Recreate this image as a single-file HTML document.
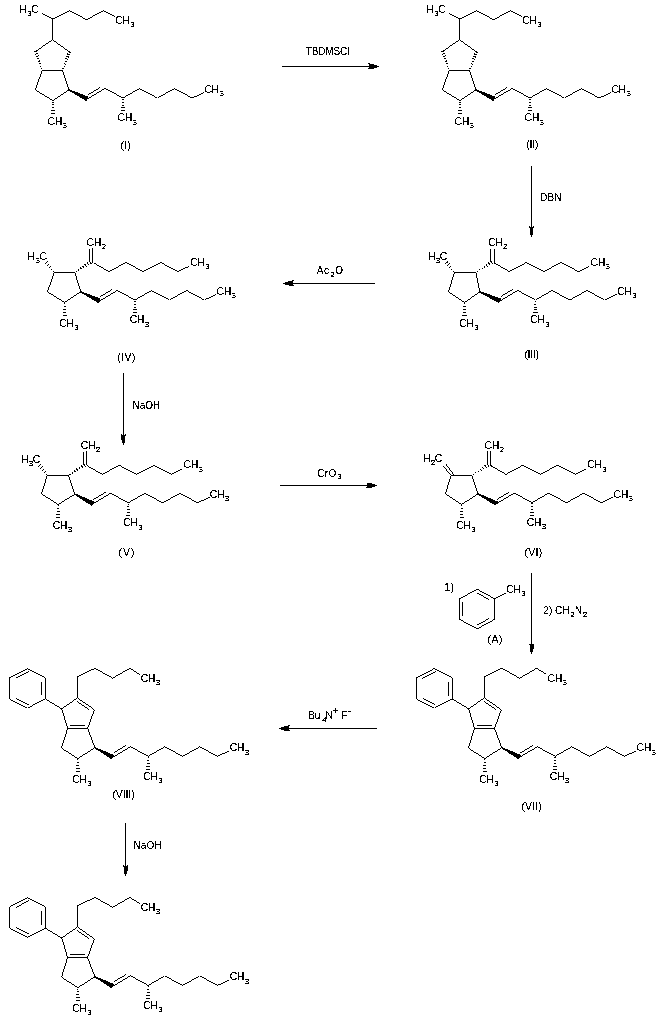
<!DOCTYPE html>
<html><head><meta charset="utf-8"><style>
html,body{margin:0;padding:0;background:#fff;}
body{width:661px;height:1021px;overflow:hidden;position:relative;}
svg{position:absolute;left:0;top:0;filter:grayscale(100%);}
path{stroke:#000;stroke-width:1.0;fill:none;stroke-linecap:butt;stroke-linejoin:miter;}
.f{fill:#000;stroke:none;}
text{font-family:"Liberation Sans",sans-serif;fill:#000;stroke:#000;stroke-width:0.12px;}
.h{stroke-width:1.05;}
.s{stroke-width:0.2px;}
</style></head><body>
<svg width="661" height="1021" viewBox="0 0 661 1021">
<defs><filter id="th" x="0" y="0" width="661" height="1021" filterUnits="userSpaceOnUse"><feComponentTransfer><feFuncA type="discrete" tableValues="0 1"/></feComponentTransfer></filter><filter id="tt" x="0" y="0" width="661" height="1021" filterUnits="userSpaceOnUse"><feComponentTransfer><feFuncA type="discrete" tableValues="0 1"/></feComponentTransfer></filter></defs>
<g filter="url(#th)">
<path d="M42.4 70.3 L35.2 89.8 L53 100.7 L68.8 89.8 L62.4 70.3"/>
<path d="M42.4 70.3 L62.4 70.3"/>
<path class="h" d="M52.34 102.5L53.66 102.5M51.98 104.5L54.02 104.5M51.62 107.5L54.38 107.5M51.26 110.5L54.74 110.5M50.9 113.5L55.1 113.5"/>
<polygon class="f" points="68.52,90.39 86.51,101.15 88.69,96.65 69.08,89.21"/>
<path d="M87.6 98.9 L105.2 88.4"/>
<path d="M87.97 94.72 L100.47 87.27"/>
<path d="M105.2 88.4 L122.9 98 L139.4 88.5 L157.4 98 L174.5 88.5 L192.2 98 L204.3 92.4"/>
<path class="h" d="M122.24 99.5L123.56 99.5M121.88 102.5L123.92 102.5M121.52 105.5L124.28 105.5M121.16 107.5L124.64 107.5M120.8 110.5L125 110.5"/>
<path d="M35.6 51.3 L52.6 39.9 L69.5 52"/>
<path class="h" d="M42.34 68.18L41.1 68.62M41.66 65.67L40.03 66.25M40.98 63.15L38.96 63.88M40.3 60.64L37.89 61.5M39.62 58.13L36.83 59.13M38.94 55.62L35.76 56.75M38.26 53.1L34.69 54.38M37.58 50.59L33.62 52.01"/>
<path class="h" d="M63.73 68.71L62.49 68.23M64.83 66.43L63.22 65.8M65.93 64.15L63.94 63.38M67.04 61.87L64.66 60.95M68.14 59.59L65.38 58.52M69.25 57.32L66.1 56.09M70.35 55.04L66.82 53.67M71.46 52.76L67.54 51.24"/>
<path d="M52.6 39.9 L52.9 18.9 L69.5 10.6 L86.6 19.7 L103.5 10.6 L114.9 16.3"/>
<path d="M41.5 13.3 L52.9 18.9"/>
<path d="M449.4 70.3 L442.2 89.8 L460 100.7 L475.8 89.8 L469.4 70.3"/>
<path d="M449.4 70.3 L469.4 70.3"/>
<path class="h" d="M459.34 102.5L460.66 102.5M458.98 104.5L461.02 104.5M458.62 107.5L461.38 107.5M458.26 110.5L461.74 110.5M457.9 113.5L462.1 113.5"/>
<polygon class="f" points="475.52,90.39 493.51,101.15 495.69,96.65 476.08,89.21"/>
<path d="M494.6 98.9 L512.2 88.4"/>
<path d="M494.97 94.72 L507.47 87.27"/>
<path d="M512.2 88.4 L529.9 98 L546.4 88.5 L564.4 98 L581.5 88.5 L599.2 98 L611.3 92.4"/>
<path class="h" d="M529.24 99.5L530.56 99.5M528.88 102.5L530.92 102.5M528.52 105.5L531.28 105.5M528.16 107.5L531.64 107.5M527.8 110.5L532 110.5"/>
<path d="M442.6 51.3 L459.6 39.9 L476.5 52"/>
<path class="h" d="M449.34 68.18L448.1 68.62M448.66 65.67L447.03 66.25M447.98 63.15L445.96 63.88M447.3 60.64L444.89 61.5M446.62 58.13L443.83 59.13M445.94 55.62L442.76 56.75M445.26 53.1L441.69 54.38M444.58 50.59L440.62 52.01"/>
<path class="h" d="M470.73 68.71L469.49 68.23M471.83 66.43L470.22 65.8M472.93 64.15L470.94 63.38M474.04 61.87L471.66 60.95M475.14 59.59L472.38 58.52M476.25 57.32L473.1 56.09M477.35 55.04L473.82 53.67M478.46 52.76L474.54 51.24"/>
<path d="M459.6 39.9 L459.9 18.9 L476.5 10.6 L493.6 19.7 L510.5 10.6 L521.9 16.3"/>
<path d="M448.5 13.3 L459.9 18.9"/>
<path d="M454.3 272.5 L448.6 291.8 L464.5 302.5 L479.9 291.8 L475.9 272.5"/>
<path d="M454.3 272.5 L475.9 272.5"/>
<path class="h" d="M463.84 303.5L465.16 303.5M463.48 306.5L465.52 306.5M463.12 309.5L465.88 309.5M462.76 312.5L466.24 312.5M462.4 315.5L466.6 315.5"/>
<polygon class="f" points="479.63,292.39 499.07,303.18 501.13,298.62 480.17,291.21"/>
<path d="M500.1 300.9 L517.7 290.4"/>
<path d="M500.47 296.72 L512.97 289.27"/>
<path d="M517.7 290.4 L535.4 300 L551.9 290.5 L569.9 300 L587 290.5 L604.7 300 L616.8 294.4"/>
<path class="h" d="M534.74 301.5L536.06 301.5M534.38 304.5L536.42 304.5M534.02 307.5L536.78 307.5M533.66 309.5L537.14 309.5M533.3 312.5L537.5 312.5"/>
<path class="h" d="M454.07 271.1L453.01 271.9M452.64 268.63L451.02 269.87M451.22 266.16L449.02 267.84M449.8 263.7L447.02 265.8M448.37 261.23L445.03 263.77"/>
<path class="h" d="M477.82 272.03L477.1 270.93M480.29 270.7L479.31 269.2M482.76 269.37L481.52 267.47M485.24 268.05L483.72 265.73M487.71 266.72L485.93 264M490.18 265.39L488.14 262.27M492.65 264.06L490.35 260.54"/>
<path d="M494 262.8 L494 248.2"/>
<path d="M490.8 248.6 L490.8 260.5"/>
<path d="M494 262.8 L509.4 271.6 L526.3 262.5 L543.7 271.6 L561.1 262.5 L578.5 271.6 L589.6 266.2"/>
<path d="M54.3 272.5 L47.4 291.8 L64.7 302.5 L80.8 291.8 L74.8 272.5"/>
<path d="M54.3 272.5 L74.8 272.5"/>
<path class="h" d="M64.04 303.5L65.36 303.5M63.68 306.5L65.72 306.5M63.32 309.5L66.08 309.5M62.96 312.5L66.44 312.5M62.6 315.5L66.8 315.5"/>
<polygon class="f" points="80.52,292.39 98.62,303.15 100.78,298.65 81.08,291.21"/>
<path d="M99.7 300.9 L117.3 290.4"/>
<path d="M100.07 296.72 L112.57 289.27"/>
<path d="M117.3 290.4 L135 300 L151.5 290.5 L169.5 300 L186.6 290.5 L204.3 300 L216.4 294.4"/>
<path class="h" d="M134.34 301.5L135.66 301.5M133.98 304.5L136.02 304.5M133.62 307.5L136.38 307.5M133.26 309.5L136.74 309.5M132.9 312.5L137.1 312.5"/>
<path class="h" d="M54.02 271.09L52.98 271.91M52.5 268.61L50.9 269.89M50.98 266.14L48.82 267.86M49.46 263.66L46.74 265.84M47.94 261.19L44.66 263.81"/>
<path class="h" d="M76.7 272.03L75.98 270.93M79.15 270.7L78.15 269.2M81.59 269.37L80.33 267.47M84.03 268.04L82.51 265.74M86.47 266.71L84.69 264.01M88.92 265.38L86.86 262.28M91.36 264.05L89.04 260.55"/>
<path d="M92.7 262.8 L92.7 248.2"/>
<path d="M89.5 248.6 L89.5 260.5"/>
<path d="M93.6 262.8 L109 271.6 L125.9 262.5 L143.3 271.6 L160.7 262.5 L178.1 271.6 L189.2 266.2"/>
<path d="M47.3 475.4 L41.4 493.8 L58.2 504.5 L74.9 494.2 L68.4 475.4"/>
<path d="M47.3 475.4 L68.4 475.4"/>
<path class="h" d="M57.54 505.5L58.86 505.5M57.18 508.5L59.22 508.5M56.82 511.5L59.58 511.5M56.46 514.5L59.94 514.5M56.1 517.5L60.3 517.5"/>
<polygon class="f" points="74.6,494.78 91.84,505.91 94.16,501.49 75.2,493.62"/>
<path d="M93 503.7 L110.6 493.2"/>
<path d="M93.37 499.52 L105.87 492.07"/>
<path d="M110.6 493.2 L128.3 502.8 L144.8 493.3 L162.8 502.8 L179.9 493.3 L197.6 502.8 L209.7 497.2"/>
<path class="h" d="M127.64 504.5L128.96 504.5M127.28 506.5L129.32 506.5M126.92 509.5L129.68 509.5M126.56 512.5L130.04 512.5M126.2 515.5L130.4 515.5"/>
<path class="h" d="M47.05 473.99L46.01 474.79M45.61 471.5L43.99 472.74M44.16 469.01L41.97 470.68M42.72 466.52L39.95 468.63M41.27 464.03L37.93 466.57"/>
<path class="h" d="M70.36 474.92L69.64 473.82M72.89 473.58L71.91 472.07M75.42 472.24L74.18 470.32M77.95 470.9L76.45 468.57M80.48 469.55L78.72 466.83M83.01 468.21L80.99 465.08M85.54 466.87L83.26 463.33"/>
<path d="M86.9 465.6 L86.9 451"/>
<path d="M83.7 451.4 L83.7 463.3"/>
<path d="M86.9 465.6 L102.3 474.4 L119.2 465.3 L136.6 474.4 L154 465.3 L171.4 474.4 L182.5 469"/>
<path d="M451.1 475.5 L445.4 493.8 L461.7 504.5 L478 493.8 L471.8 475.5"/>
<path d="M451.1 475.5 L471.8 475.5"/>
<path class="h" d="M461.04 505.5L462.36 505.5M460.68 508.5L462.72 508.5M460.32 511.5L463.08 511.5M459.96 514.5L463.44 514.5M459.6 517.5L463.8 517.5"/>
<polygon class="f" points="477.7,494.38 495.54,505.81 497.86,501.39 478.3,493.22"/>
<path d="M496.7 503.6 L514.3 493.1"/>
<path d="M497.07 499.42 L509.57 491.97"/>
<path d="M514.3 493.1 L532 502.7 L548.5 493.2 L566.5 502.7 L583.6 493.2 L601.3 502.7 L613.4 497.1"/>
<path class="h" d="M531.34 503.5L532.66 503.5M530.98 506.5L533.02 506.5M530.62 509.5L533.38 509.5M530.26 512.5L533.74 512.5M529.9 515.5L534.1 515.5"/>
<path d="M451.1 475.5 L443.4 466.1"/>
<path d="M453.8 474.7 L446.1 464.3"/>
<path class="h" d="M473.79 475L473.07 473.9M476.36 473.63L475.39 472.12M478.94 472.26L477.7 470.34M481.51 470.89L480.02 468.56M484.09 469.51L482.33 466.79M486.66 468.14L484.65 465.01M489.24 466.77L486.96 463.23"/>
<path d="M490.6 465.5 L490.6 450.9"/>
<path d="M487.4 451.3 L487.4 463.2"/>
<path d="M490.6 465.5 L506 474.3 L522.9 465.2 L540.3 474.3 L557.7 465.2 L575.1 474.3 L586.2 468.9"/>
<path d="M474.5 728.4 L468.4 748.1 L484.7 758.6 L501.8 747.7 L494.5 728.4"/>
<path d="M474.5 728.4 L494.5 728.4"/>
<path class="h" d="M484.04 759.5L485.36 759.5M483.68 762.5L485.72 762.5M483.32 765.5L486.08 765.5M482.96 768.5L486.44 768.5M482.6 771.5L486.8 771.5"/>
<polygon class="f" points="501.5,748.27 518.63,759.41 520.97,754.99 502.1,747.13"/>
<path d="M519.8 757.2 L537.4 746.7"/>
<path d="M520.17 753.02 L532.67 745.57"/>
<path d="M537.4 746.7 L555.1 756.3 L571.6 746.8 L589.6 756.3 L606.7 746.8 L624.4 756.3 L636.5 750.7"/>
<path class="h" d="M554.44 757.5L555.76 757.5M554.08 760.5L556.12 760.5M553.72 763.5L556.48 763.5M553.36 766.5L556.84 766.5M553 769.5L557.2 769.5"/>
<path d="M474.5 728.4 L468.7 708.9 L484.3 697.9 L501.3 709.7 L494.5 728.4"/>
<path d="M483.44 700.95 L495.85 709.57"/>
<path d="M477.1 725.4 L491.9 725.4"/>
<path d="M434.3 668.6 L452.2 677.7 L452.2 699 L434.3 708.1 L416.4 699 L416.4 677.7 L434.3 668.6"/>
<path d="M422.42 678.46 L435.84 671.63"/>
<path d="M448.8 681.96 L448.8 695.8"/>
<path d="M422.42 698.24 L435.84 705.07"/>
<path d="M452.2 699 L468.7 708.9"/>
<path d="M484.3 697.9 L484.5 676.6 L501.9 668.3 L519.6 678.2 L536.7 668.3 L546.6 674.4"/>
<path d="M67.6 728.4 L61.5 748.1 L77.8 758.6 L94.9 747.7 L87.6 728.4"/>
<path d="M67.6 728.4 L87.6 728.4"/>
<path class="h" d="M77.14 759.5L78.46 759.5M76.78 762.5L78.82 762.5M76.42 765.5L79.18 765.5M76.06 768.5L79.54 768.5M75.7 771.5L79.9 771.5"/>
<polygon class="f" points="94.6,748.27 111.73,759.41 114.07,754.99 95.2,747.13"/>
<path d="M112.9 757.2 L130.5 746.7"/>
<path d="M113.27 753.02 L125.77 745.57"/>
<path d="M130.5 746.7 L148.2 756.3 L164.7 746.8 L182.7 756.3 L199.8 746.8 L217.5 756.3 L229.6 750.7"/>
<path class="h" d="M147.54 757.5L148.86 757.5M147.18 760.5L149.22 760.5M146.82 763.5L149.58 763.5M146.46 766.5L149.94 766.5M146.1 769.5L150.3 769.5"/>
<path d="M67.6 728.4 L61.8 708.9 L77.4 697.9 L94.4 709.7 L87.6 728.4"/>
<path d="M76.54 700.95 L88.95 709.57"/>
<path d="M70.2 725.4 L85 725.4"/>
<path d="M27.4 668.6 L45.3 677.7 L45.3 699 L27.4 708.1 L9.5 699 L9.5 677.7 L27.4 668.6"/>
<path d="M15.52 678.46 L28.94 671.63"/>
<path d="M41.9 681.96 L41.9 695.8"/>
<path d="M15.52 698.24 L28.94 705.07"/>
<path d="M45.3 699 L61.8 708.9"/>
<path d="M77.4 697.9 L77.6 676.6 L95 668.3 L112.7 678.2 L129.8 668.3 L139.7 674.4"/>
<path d="M67.6 957.5 L61.5 977.2 L77.8 987.7 L94.9 976.8 L87.6 957.5"/>
<path d="M67.6 957.5 L87.6 957.5"/>
<path class="h" d="M77.14 989.5L78.46 989.5M76.78 991.5L78.82 991.5M76.42 994.5L79.18 994.5M76.06 997.5L79.54 997.5M75.7 1000.5L79.9 1000.5"/>
<polygon class="f" points="94.6,977.37 111.73,988.51 114.07,984.09 95.2,976.23"/>
<path d="M112.9 986.3 L130.5 975.8"/>
<path d="M113.27 982.12 L125.77 974.67"/>
<path d="M130.5 975.8 L148.2 985.4 L164.7 975.9 L182.7 985.4 L199.8 975.9 L217.5 985.4 L229.6 979.8"/>
<path class="h" d="M147.54 986.5L148.86 986.5M147.18 989.5L149.22 989.5M146.82 992.5L149.58 992.5M146.46 995.5L149.94 995.5M146.1 998.5L150.3 998.5"/>
<path d="M67.6 957.5 L61.8 938 L77.4 927 L94.4 938.8 L87.6 957.5"/>
<path d="M76.54 930.05 L88.95 938.67"/>
<path d="M70.2 954.5 L85 954.5"/>
<path d="M27.4 897.7 L45.3 906.8 L45.3 928.1 L27.4 937.2 L9.5 928.1 L9.5 906.8 L27.4 897.7"/>
<path d="M15.52 907.56 L28.94 900.73"/>
<path d="M41.9 911.06 L41.9 924.9"/>
<path d="M15.52 927.34 L28.94 934.17"/>
<path d="M45.3 928.1 L61.8 938"/>
<path d="M77.4 927 L77.6 905.7 L95 897.4 L112.7 907.3 L129.8 897.4 L139.7 903.5"/>
<path d="M281.8 66.3L369.3 66.3"/>
<polygon class="f" points="378.8,65.75 377,65.75 377,64.8 373.8,64.8 373.8,63.9 369.9,63.9 369.9,63.3 368.1,63.3 368.1,64.1 369.2,64.8 369.2,65.75 369.2,66.85 369.2,67.8 368.1,68.5 368.1,69.3 369.9,69.3 369.9,68.7 373.8,68.7 373.8,67.8 377,67.8 377,66.85 378.8,66.85"/>
<path d="M531.5 165.9L531.5 227.3"/>
<polygon class="f" points="531.94,236.8 531.94,235 532.7,235 532.7,231.8 533.42,231.8 533.42,227.9 533.9,227.9 533.9,226.1 533.26,226.1 532.7,227.2 531.94,227.2 531.06,227.2 530.3,227.2 529.74,226.1 529.1,226.1 529.1,227.9 529.58,227.9 529.58,231.8 530.3,231.8 530.3,235 531.06,235 531.06,236.8"/>
<path d="M375.7 283.2L292.6 283.2"/>
<polygon class="f" points="283.1,283.75 284.9,283.75 284.9,284.7 288.1,284.7 288.1,285.6 292,285.6 292,286.2 293.8,286.2 293.8,285.4 292.7,284.7 292.7,283.75 292.7,282.65 292.7,281.7 293.8,281 293.8,280.2 292,280.2 292,280.8 288.1,280.8 288.1,281.7 284.9,281.7 284.9,282.65 283.1,282.65"/>
<path d="M123.4 372.9L123.4 435.4"/>
<polygon class="f" points="123.84,444.9 123.84,443.1 124.6,443.1 124.6,439.9 125.32,439.9 125.32,436 125.8,436 125.8,434.2 125.16,434.2 124.6,435.3 123.84,435.3 122.96,435.3 122.2,435.3 121.64,434.2 121,434.2 121,436 121.48,436 121.48,439.9 122.2,439.9 122.2,443.1 122.96,443.1 122.96,444.9"/>
<path d="M280 485.4L367.3 485.4"/>
<polygon class="f" points="376.8,484.85 375,484.85 375,483.9 371.8,483.9 371.8,483 367.9,483 367.9,482.4 366.1,482.4 366.1,483.2 367.2,483.9 367.2,484.85 367.2,485.95 367.2,486.9 366.1,487.6 366.1,488.4 367.9,488.4 367.9,487.8 371.8,487.8 371.8,486.9 375,486.9 375,485.95 376.8,485.95"/>
<path d="M531.6 572.9L531.6 644.7"/>
<polygon class="f" points="532.04,654.2 532.04,652.4 532.8,652.4 532.8,649.2 533.52,649.2 533.52,645.3 534,645.3 534,643.5 533.36,643.5 532.8,644.6 532.04,644.6 531.16,644.6 530.4,644.6 529.84,643.5 529.2,643.5 529.2,645.3 529.68,645.3 529.68,649.2 530.4,649.2 530.4,652.4 531.16,652.4 531.16,654.2"/>
<path d="M477.4 589.3 L494.7 598.8 L494.7 619.3 L477.4 628.8 L459.3 619.3 L459.3 598.8 L477.4 589.3"/>
<path d="M476.63 592.76 L489.6 599.88"/>
<path d="M462.7 601.88 L462.7 616.22"/>
<path d="M476.63 625.34 L489.6 618.22"/>
<path d="M494.7 598.8 L506.4 592.7"/>
<path d="M376.8 728.3L288.6 728.3"/>
<polygon class="f" points="279.1,728.85 280.9,728.85 280.9,729.8 284.1,729.8 284.1,730.7 288,730.7 288,731.3 289.8,731.3 289.8,730.5 288.7,729.8 288.7,728.85 288.7,727.75 288.7,726.8 289.8,726.1 289.8,725.3 288,725.3 288,725.9 284.1,725.9 284.1,726.8 280.9,726.8 280.9,727.75 279.1,727.75"/>
<path d="M325.3 722V717.4L322.5 720.5H326.3"/>
<path d="M326.5 718.8V711L331.5 718.6V711"/>
<path d="M333.1 710.5H337.9M335.5 708.1V712.9"/>
<path d="M348 711.5H351"/>
<path d="M125.6 823L125.6 866.4"/>
<polygon class="f" points="126.04,875.9 126.04,874.1 126.8,874.1 126.8,870.9 127.52,870.9 127.52,867 128,867 128,865.2 127.36,865.2 126.8,866.3 126.04,866.3 125.16,866.3 124.4,866.3 123.84,865.2 123.2,865.2 123.2,867 123.68,867 123.68,870.9 124.4,870.9 124.4,874.1 125.16,874.1 125.16,875.9"/>
</g>
<g filter="url(#tt)">
<text x="47.5" y="125" text-anchor="start" font-size="10.5" letter-spacing="-0.4">CH<tspan class="s" dx="0.6" dy="3.3" font-size="8">3</tspan></text>
<text x="117.6" y="121.4" text-anchor="start" font-size="10.5" letter-spacing="-0.4">CH<tspan class="s" dx="0.6" dy="3.3" font-size="8">3</tspan></text>
<text x="204.4" y="93" text-anchor="start" font-size="10.5" letter-spacing="-0.4">CH<tspan class="s" dx="0.6" dy="3.3" font-size="8">3</tspan></text>
<text x="19.3" y="12.9" text-anchor="start" font-size="10.5" letter-spacing="-0.4">H<tspan class="s" dx="0.6" dy="3.3" font-size="8">3</tspan><tspan dy="-3.3">C</tspan></text>
<text x="115.3" y="24" text-anchor="start" font-size="10.5" letter-spacing="-0.4">CH<tspan class="s" dx="0.6" dy="3.3" font-size="8">3</tspan></text>
<text x="454.5" y="125" text-anchor="start" font-size="10.5" letter-spacing="-0.4">CH<tspan class="s" dx="0.6" dy="3.3" font-size="8">3</tspan></text>
<text x="524.6" y="121.4" text-anchor="start" font-size="10.5" letter-spacing="-0.4">CH<tspan class="s" dx="0.6" dy="3.3" font-size="8">3</tspan></text>
<text x="611.4" y="93" text-anchor="start" font-size="10.5" letter-spacing="-0.4">CH<tspan class="s" dx="0.6" dy="3.3" font-size="8">3</tspan></text>
<text x="426.3" y="12.9" text-anchor="start" font-size="10.5" letter-spacing="-0.4">H<tspan class="s" dx="0.6" dy="3.3" font-size="8">3</tspan><tspan dy="-3.3">C</tspan></text>
<text x="522.3" y="24" text-anchor="start" font-size="10.5" letter-spacing="-0.4">CH<tspan class="s" dx="0.6" dy="3.3" font-size="8">3</tspan></text>
<text x="459" y="326.8" text-anchor="start" font-size="10.5" letter-spacing="-0.4">CH<tspan class="s" dx="0.6" dy="3.3" font-size="8">3</tspan></text>
<text x="530.1" y="323.4" text-anchor="start" font-size="10.5" letter-spacing="-0.4">CH<tspan class="s" dx="0.6" dy="3.3" font-size="8">3</tspan></text>
<text x="616.9" y="295" text-anchor="start" font-size="10.5" letter-spacing="-0.4">CH<tspan class="s" dx="0.6" dy="3.3" font-size="8">3</tspan></text>
<text x="428" y="259.8" text-anchor="start" font-size="10.5" letter-spacing="-0.4">H<tspan class="s" dx="0.6" dy="3.3" font-size="8">3</tspan><tspan dy="-3.3">C</tspan></text>
<text x="487.9" y="246" text-anchor="start" font-size="10.5" letter-spacing="-0.4">CH<tspan class="s" dx="0.6" dy="3.3" font-size="8">2</tspan></text>
<text x="590.6" y="265.6" text-anchor="start" font-size="10.5" letter-spacing="-0.4">CH<tspan class="s" dx="0.6" dy="3.3" font-size="8">3</tspan></text>
<text x="59.2" y="326.8" text-anchor="start" font-size="10.5" letter-spacing="-0.4">CH<tspan class="s" dx="0.6" dy="3.3" font-size="8">3</tspan></text>
<text x="129.7" y="323.4" text-anchor="start" font-size="10.5" letter-spacing="-0.4">CH<tspan class="s" dx="0.6" dy="3.3" font-size="8">3</tspan></text>
<text x="216.5" y="295" text-anchor="start" font-size="10.5" letter-spacing="-0.4">CH<tspan class="s" dx="0.6" dy="3.3" font-size="8">3</tspan></text>
<text x="27.6" y="259.8" text-anchor="start" font-size="10.5" letter-spacing="-0.4">H<tspan class="s" dx="0.6" dy="3.3" font-size="8">3</tspan><tspan dy="-3.3">C</tspan></text>
<text x="86.6" y="246" text-anchor="start" font-size="10.5" letter-spacing="-0.4">CH<tspan class="s" dx="0.6" dy="3.3" font-size="8">2</tspan></text>
<text x="190.2" y="265.6" text-anchor="start" font-size="10.5" letter-spacing="-0.4">CH<tspan class="s" dx="0.6" dy="3.3" font-size="8">3</tspan></text>
<text x="52.7" y="528.8" text-anchor="start" font-size="10.5" letter-spacing="-0.4">CH<tspan class="s" dx="0.6" dy="3.3" font-size="8">3</tspan></text>
<text x="123" y="526.2" text-anchor="start" font-size="10.5" letter-spacing="-0.4">CH<tspan class="s" dx="0.6" dy="3.3" font-size="8">3</tspan></text>
<text x="209.8" y="497.8" text-anchor="start" font-size="10.5" letter-spacing="-0.4">CH<tspan class="s" dx="0.6" dy="3.3" font-size="8">3</tspan></text>
<text x="20.9" y="462.6" text-anchor="start" font-size="10.5" letter-spacing="-0.4">H<tspan class="s" dx="0.6" dy="3.3" font-size="8">3</tspan><tspan dy="-3.3">C</tspan></text>
<text x="80.8" y="448.8" text-anchor="start" font-size="10.5" letter-spacing="-0.4">CH<tspan class="s" dx="0.6" dy="3.3" font-size="8">2</tspan></text>
<text x="183.5" y="468.4" text-anchor="start" font-size="10.5" letter-spacing="-0.4">CH<tspan class="s" dx="0.6" dy="3.3" font-size="8">3</tspan></text>
<text x="456.2" y="528.8" text-anchor="start" font-size="10.5" letter-spacing="-0.4">CH<tspan class="s" dx="0.6" dy="3.3" font-size="8">3</tspan></text>
<text x="526.7" y="526.1" text-anchor="start" font-size="10.5" letter-spacing="-0.4">CH<tspan class="s" dx="0.6" dy="3.3" font-size="8">3</tspan></text>
<text x="613.5" y="497.7" text-anchor="start" font-size="10.5" letter-spacing="-0.4">CH<tspan class="s" dx="0.6" dy="3.3" font-size="8">3</tspan></text>
<text x="422.9" y="462" text-anchor="start" font-size="10.5" letter-spacing="-0.4">H<tspan class="s" dx="0.6" dy="3.3" font-size="8">2</tspan><tspan dy="-3.3">C</tspan></text>
<text x="484.5" y="448.7" text-anchor="start" font-size="10.5" letter-spacing="-0.4">CH<tspan class="s" dx="0.6" dy="3.3" font-size="8">2</tspan></text>
<text x="587.2" y="468.3" text-anchor="start" font-size="10.5" letter-spacing="-0.4">CH<tspan class="s" dx="0.6" dy="3.3" font-size="8">3</tspan></text>
<text x="479.2" y="782.9" text-anchor="start" font-size="10.5" letter-spacing="-0.4">CH<tspan class="s" dx="0.6" dy="3.3" font-size="8">3</tspan></text>
<text x="549.8" y="779.7" text-anchor="start" font-size="10.5" letter-spacing="-0.4">CH<tspan class="s" dx="0.6" dy="3.3" font-size="8">3</tspan></text>
<text x="636.6" y="751.3" text-anchor="start" font-size="10.5" letter-spacing="-0.4">CH<tspan class="s" dx="0.6" dy="3.3" font-size="8">3</tspan></text>
<text x="547.6" y="682" text-anchor="start" font-size="10.5" letter-spacing="-0.4">CH<tspan class="s" dx="0.6" dy="3.3" font-size="8">3</tspan></text>
<text x="72.3" y="782.9" text-anchor="start" font-size="10.5" letter-spacing="-0.4">CH<tspan class="s" dx="0.6" dy="3.3" font-size="8">3</tspan></text>
<text x="142.9" y="779.7" text-anchor="start" font-size="10.5" letter-spacing="-0.4">CH<tspan class="s" dx="0.6" dy="3.3" font-size="8">3</tspan></text>
<text x="229.7" y="751.3" text-anchor="start" font-size="10.5" letter-spacing="-0.4">CH<tspan class="s" dx="0.6" dy="3.3" font-size="8">3</tspan></text>
<text x="140.7" y="682" text-anchor="start" font-size="10.5" letter-spacing="-0.4">CH<tspan class="s" dx="0.6" dy="3.3" font-size="8">3</tspan></text>
<text x="72.3" y="1012" text-anchor="start" font-size="10.5" letter-spacing="-0.4">CH<tspan class="s" dx="0.6" dy="3.3" font-size="8">3</tspan></text>
<text x="142.9" y="1008.8" text-anchor="start" font-size="10.5" letter-spacing="-0.4">CH<tspan class="s" dx="0.6" dy="3.3" font-size="8">3</tspan></text>
<text x="229.7" y="980.4" text-anchor="start" font-size="10.5" letter-spacing="-0.4">CH<tspan class="s" dx="0.6" dy="3.3" font-size="8">3</tspan></text>
<text x="140.7" y="911.1" text-anchor="start" font-size="10.5" letter-spacing="-0.4">CH<tspan class="s" dx="0.6" dy="3.3" font-size="8">3</tspan></text>
<text x="305.8" y="54.5" text-anchor="start" font-size="10" letter-spacing="-0.15">TBDMSCl</text>
<text x="120.4" y="149" text-anchor="start" font-size="10.5" letter-spacing="0.2">(I)</text>
<text x="526.2" y="148.2" text-anchor="start" font-size="10.5" letter-spacing="-0.2">(II)</text>
<text x="540" y="200.7" text-anchor="start" font-size="10" letter-spacing="0.2">DBN</text>
<text x="524.4" y="358.2" text-anchor="start" font-size="10.5" letter-spacing="-0.3">(III)</text>
<text x="316.8" y="274.1" text-anchor="start" font-size="10" letter-spacing="0.6">Ac<tspan class="s" dx="0.6" dy="2.6" font-size="8">2</tspan><tspan dy="-2.6">O</tspan></text>
<text x="117.2" y="361" text-anchor="start" font-size="10.5" letter-spacing="0.5">(IV)</text>
<text x="132.6" y="409.2" text-anchor="start" font-size="10" letter-spacing="-0.1">NaOH</text>
<text x="118.6" y="556" text-anchor="start" font-size="10.5" letter-spacing="0.9">(V)</text>
<text x="317.2" y="477.2" text-anchor="start" font-size="10" letter-spacing="0.35">CrO<tspan class="s" dx="0.6" dy="2.2" font-size="8">3</tspan></text>
<text x="524.4" y="556" text-anchor="start" font-size="10.5" letter-spacing="0.35">(VI)</text>
<text x="444.5" y="590.7" text-anchor="start" font-size="10" letter-spacing="0.7">1)</text>
<text x="506.2" y="592.9" text-anchor="start" font-size="10.5" letter-spacing="-0.4">CH<tspan class="s" dx="0.6" dy="3.3" font-size="8">3</tspan></text>
<text x="487.4" y="643" text-anchor="start" font-size="10.5" letter-spacing="0.6">(A)</text>
<text x="543.3" y="614" text-anchor="start" font-size="10" letter-spacing="0.05">2) CH<tspan class="s" dx="0.6" dy="2.6" font-size="8">2</tspan><tspan dy="-2.6">N</tspan><tspan class="s" dx="0.6" dy="2.6" font-size="8">2</tspan></text>
<text x="521.4" y="810" text-anchor="start" font-size="10.5" letter-spacing="0.1">(VII)</text>
<text x="308.2" y="718.6" text-anchor="start" font-size="10" letter-spacing="-0.2">Bu</text>
<text x="341.1" y="718.6" text-anchor="start" font-size="10" letter-spacing="0">F</text>
<text x="112.4" y="798" text-anchor="start" font-size="10.5" letter-spacing="-0.1">(VIII)</text>
<text x="133.5" y="849.2" text-anchor="start" font-size="10" letter-spacing="0.05">NaOH</text>
</g>
</svg></body></html>
